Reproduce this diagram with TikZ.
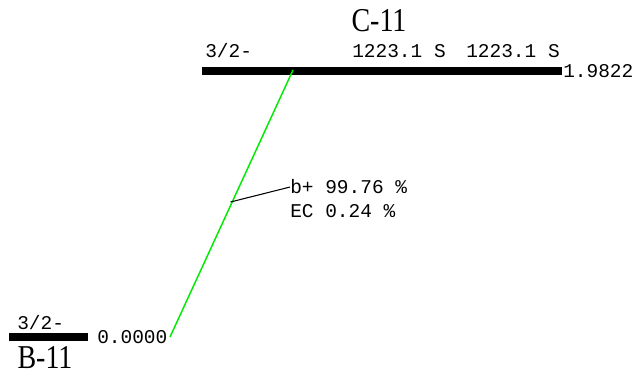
\documentclass[tikz,border=0pt]{standalone}
\usepackage{fontspec}
\setmainfont{Liberation Serif}
\newfontfamily\monof{Liberation Mono}
\begin{document}
\begin{tikzpicture}[x=0.75pt,y=-0.75pt,
  lvl/.style={fill=black,draw=none,inner sep=0pt,minimum height=6pt},
  lab/.style={font=\monof\fontsize{14.6}{16}\selectfont,inner sep=0pt,anchor=base west},
  nuc/.style={font=\fontsize{25}{27}\selectfont,inner sep=0pt,xscale=0.84,anchor=base,text depth=0pt},
  decay/.style={draw={rgb,255:red,0;green,235;blue,0},line width=1.1pt},
  pointer/.style={draw=black,line width=0.8pt}]
\useasboundingbox (0,0) rectangle (641,377);
% levels
\node[lvl,minimum width=270pt,anchor=north west] (top) at (202,67) {};
\node[lvl,minimum width=59pt,anchor=north west] (bot) at (9,333) {};
% labels
\node[lab] (tspin) at (205,58) {3/2-};
\node[lab] (te1) at (352,58) {1223.1 S};
\node[lab] (te2) at (466,58) {1223.1 S};
\node[lab] (tq) at (563,78) {1.9822};
\node[nuc] (cname) at (379,32) {C-11};
\node[lab] (bspin) at (17,329) {3/2-};
\node[lab] (bq) at (97,343) {0.0000};
\node[nuc] (bname) at (45,368) {B-11};
\node[lab] (br1) at (290,194) {b+ 99.76 \%};
\node[lab] (br2) at (290,218) {EC 0.24 \%};
% decay line
\coordinate (dstart) at (170,337);
\coordinate (dend) at (293,70);
\draw[decay] (dstart) -- (dend);
\coordinate (pfoot) at (230.5,202);
\draw[pointer] (pfoot) -- (br1.west);
\end{tikzpicture}
\end{document}
